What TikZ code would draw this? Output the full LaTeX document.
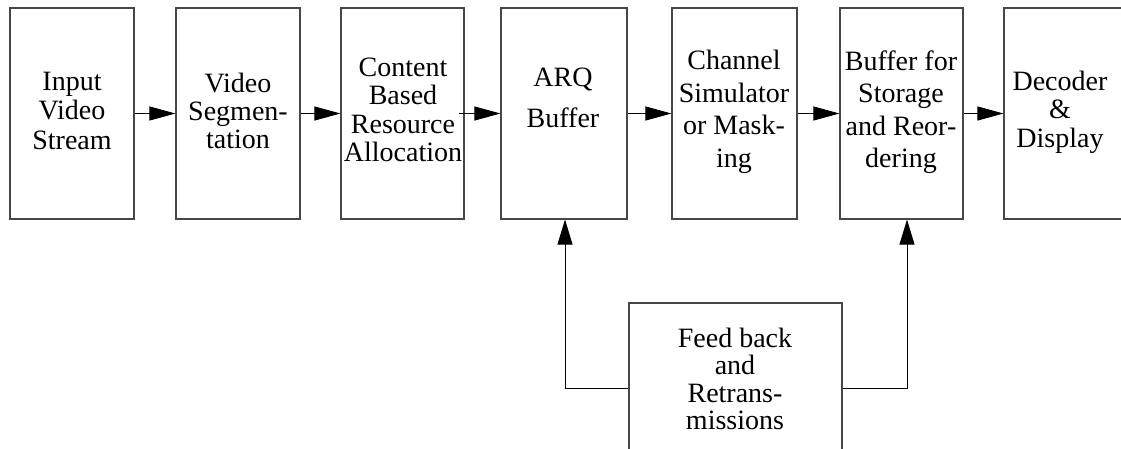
\documentclass[tikz,border=0pt]{standalone}
\usepackage{fontspec}
\setmainfont{Liberation Serif}
\usetikzlibrary{arrows.meta}
\tikzset{
  box/.style={draw=black!72, line width=1.1pt, rectangle, minimum height=211pt, inner sep=0pt},
  txt/.style={align=center, inner sep=0pt},
  arr/.style={draw=black, line width=0.9pt, -{Triangle[length=26pt,width=14pt]}},
  varr/.style={draw=black, line width=0.9pt, -{Triangle[length=25pt,width=15pt]}},
}
\newcommand{\fs}[1]{\fontsize{28}{#1}\selectfont}
\begin{document}
\begin{tikzpicture}[x=1pt,y=-1pt]
\useasboundingbox (0,0) rectangle (1121,448);
\clip (0,0) rectangle (1121,448);
% boxes
\node[box, minimum width=124pt] (b1) at (72,113.5) {};
\node[box, minimum width=124pt] (b2) at (238,113.5) {};
\node[box, minimum width=123pt] (b3) at (402.5,113.5) {};
\node[box, minimum width=126pt] (b4) at (564,113.5) {};
\node[box, minimum width=125pt] (b5) at (734.5,113.5) {};
\node[box, minimum width=123pt] (b6) at (901.5,113.5) {};
\node[box, minimum width=124pt] (b7) at (1066,113.5) {};
\node[box, minimum width=213pt, minimum height=170pt] (fb) at (735.5,388) {};
% texts
\node[txt, font=\fs{29.5}] (t1) at (72,110.5) {Input\\Video\\Stream};
\node[txt, font=\fs{28}] (t2) at (238,111) {Video\\Segmen-\\tation};
\node[txt, font=\fs{28.5}] (t3) at (403,110) {Content\\Based\\Resource\\Allocation};
\node[txt, font=\fs{41}] (t4) at (563,98) {ARQ\\Buffer};
\node[txt, font=\fs{32.5}] (t5) at (734,112) {Channel\\Simulator\\or Mask-\\ing};
\node[txt, font=\fs{32.5}] (t6) at (901,112) {Buffer for\\Storage\\and Reor-\\dering};
\node[txt, font=\fs{28.5}] (t7) at (1060,112) {Decoder\\\&\\Display};
\node[txt, font=\fs{27.5}] (t8) at (735,379) {Feed back\\and\\Retrans-\\missions};
% connectors
\draw[arr] (b1.east) -- (b2.west);
\draw[arr] (b2.east) -- (b3.west);
\draw[arr] ([xshift=-6pt]b3.east) -- (b4.west);
\draw[arr] (b4.east) -- (b5.west);
\draw[arr] (b5.east) -- (b6.west);
\draw[arr] (b6.east) -- (b7.west);
\draw[varr] (fb.west) -| ([xshift=1pt]b4.south);
\draw[varr] (fb.east) -| ([xshift=5.5pt]b6.south);
\end{tikzpicture}
\end{document}
